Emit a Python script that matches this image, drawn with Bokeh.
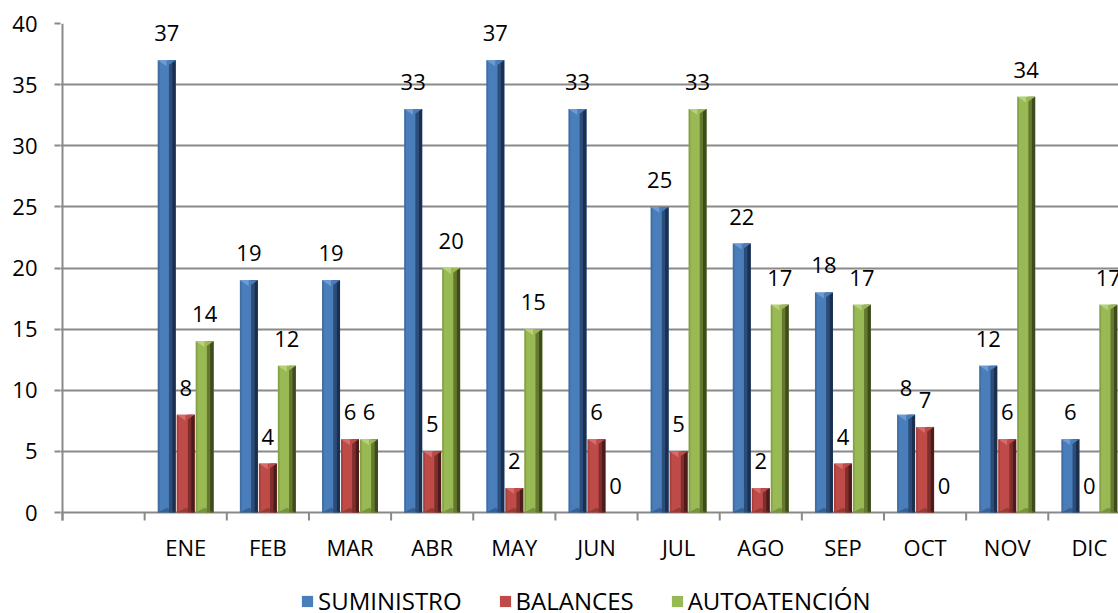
import numpy as np
from bokeh.plotting import figure
from bokeh.models import Range1d, FixedTicker, Legend, LegendItem, ColumnDataSource
from bokeh.core.properties import value
from bokeh.embed import file_html
from bokeh.resources import INLINE

# ---- data ----
months = ["ENE", "FEB", "MAR", "ABR", "MAY", "JUN", "JUL", "AGO", "SEP", "OCT", "NOV", "DIC"]
series_names = ["SUMINISTRO", "BALANCES", "AUTOATENCIÓN"]
suministro = [37, 19, 19, 33, 37, 33, 25, 22, 18, 8, 12, 6]
balances = [8, 4, 6, 5, 2, 6, 5, 2, 4, 7, 6, 0]
autoatencion = [14, 12, 6, 20, 15, 0, 33, 17, 17, 0, 34, 17]
y_ticks = [0, 5, 10, 15, 20, 25, 30, 35, 40]

# ---- styling / layout ----
FONT = "Open Sans"
FS = "22px"
GRID = "#898989"
palettes = [
    dict(main="#4A7EBB", light="#6E9BD4", dark="#2C4C7A", darker="#1B2F4F"),
    dict(main="#BE4B48", light="#D56D6A", dark="#7E2E2C", darker="#4F1B1A"),
    dict(main="#98B954", light="#B7D275", dark="#64782F", darker="#3E4B1D"),
]

W, H = 1118, 613
ML, MT = 60, 23
frame_w, frame_h = W - ML, H - MT
px_per_cat = 82.15
px_per_unit = 489 / 40.0
x_start = -2 / px_per_cat
x_end = x_start + frame_w / px_per_cat
y_start = 40 - frame_h / px_per_unit

p = figure(width=W, height=H, output_backend="svg", toolbar_location=None,
           x_range=Range1d(x_start, x_end), y_range=Range1d(y_start, 40),
           min_border_left=ML, min_border_top=MT, min_border_right=0, min_border_bottom=0)
p.outline_line_color = None
p.background_fill_color = "white"
p.border_fill_color = "white"
p.xaxis.visible = False

# y axis (ticks + labels), line drawn below as a segment
p.yaxis.ticker = FixedTicker(ticks=y_ticks)
p.yaxis.major_tick_out = 6
p.yaxis.major_tick_in = 0
p.yaxis.minor_tick_line_color = None
p.yaxis.major_tick_line_color = GRID
p.yaxis.major_tick_line_width = 2
p.yaxis.axis_line_color = None
p.yaxis.major_label_text_font = FONT
p.yaxis.major_label_text_font_size = FS
p.yaxis.major_label_text_color = "black"
p.yaxis.major_label_standoff = 17

p.xgrid.grid_line_color = None
p.ygrid.ticker = FixedTicker(ticks=y_ticks)
p.ygrid.grid_line_color = GRID
p.ygrid.grid_line_width = 2

centers = [i + 1.5 for i in range(len(months))]
bounds = [float(i) for i in range(len(months) + 1)]
tick_len = 8 / px_per_unit

# category axis: line, tick marks and month labels
p.segment(x0=[0], y0=[-tick_len], x1=[0], y1=[40], line_color=GRID, line_width=2)
p.segment(x0=bounds, y0=[0] * len(bounds), x1=bounds, y1=[-tick_len] * len(bounds),
          line_color=GRID, line_width=2)
p.text(x=centers, y=[-34 / px_per_unit] * len(centers), text=months,
       text_align="center", text_baseline="middle",
       text_font=value(FONT), text_font_size=FS, text_color="black")

# bars
bar_w = 0.219
offsets = [-0.231, 0.0, 0.231]
chamfer = 6 / px_per_unit
label_gap = 27 / px_per_unit

legend_items = []
for s_idx, vals in enumerate([suministro, balances, autoatencion]):
    pal = palettes[s_idx]
    xs = np.array(centers) + offsets[s_idx]
    v = np.array(vals, dtype=float)
    mask = v > 0
    xm, vm = xs[mask], v[mask]
    L = xm - bar_w / 2
    R = xm + bar_w / 2
    body = p.quad(left=L, right=R, bottom=0, top=vm, fill_color=pal["main"], line_color=None)
    p.quad(left=xm - bar_w * 0.5, right=xm - bar_w * 0.40, bottom=0, top=vm,
           fill_color=pal["dark"], fill_alpha=0.35, line_color=None)
    p.quad(left=xm + bar_w * 0.12, right=xm + bar_w * 0.30, bottom=0, top=vm,
           fill_color=pal["dark"], line_color=None)
    p.quad(left=xm + bar_w * 0.30, right=xm + bar_w * 0.5, bottom=0, top=vm,
           fill_color=pal["darker"], line_color=None)
    # top pyramid cap
    top_l_x = [[l, c, c] for l, c in zip(L, xm)]
    top_l_y = [[t, t, t - chamfer] for t in vm]
    top_r_x = [[c, r, c] for c, r in zip(xm, R)]
    top_r_y = [[t, t, t - chamfer] for t in vm]
    p.patches(xs=top_l_x, ys=top_l_y, fill_color=pal["light"], line_color=None)
    p.patches(xs=top_r_x, ys=top_r_y, fill_color=pal["main"], line_color=None)
    # bottom cap
    bot_x = [[l, r, c] for l, r, c in zip(L, R, xm)]
    bot_y = [[0, 0, chamfer * 0.8] for _ in vm]
    p.patches(xs=bot_x, ys=bot_y, fill_color=pal["dark"], fill_alpha=0.6, line_color=None)
    # value labels
    src = ColumnDataSource(dict(x=xs, y=v + label_gap, t=[str(int(a)) for a in vals]))
    p.text(x="x", y="y", text="t", source=src, text_align="center", text_baseline="alphabetic",
           text_font=value(FONT), text_font_size=FS, text_color="black")
    legend_items.append(LegendItem(label=series_names[s_idx], renderers=[body]))

legend = Legend(items=legend_items, orientation="horizontal", location=(240, -4),
                border_line_color=None, background_fill_alpha=0,
                label_text_font=FONT, label_text_font_size="24px", label_text_color="black",
                label_height=33, glyph_width=14, glyph_height=14,
                label_standoff=4, spacing=36, margin=0, padding=0)
p.add_layout(legend, "center")

open("out.html", "w").write(file_html(p, INLINE))
